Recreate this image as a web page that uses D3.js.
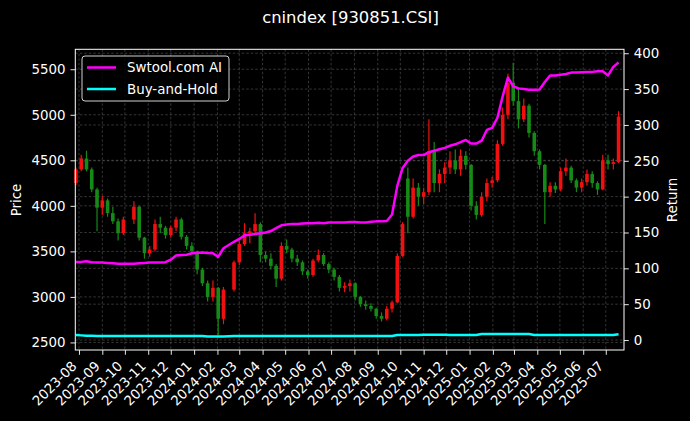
<!DOCTYPE html>
<html>
<head>
<meta charset="utf-8">
<script src="https://cdn.jsdelivr.net/npm/d3@7"></script>
<style>
html,body{margin:0;padding:0;background:#000;}
svg{display:block;}
text{font-family:"DejaVu Sans",sans-serif;fill:#fff;}
</style>
</head>
<body>
<svg id="chart" width="690" height="421"></svg>
<script>
const titleText = "cnindex [930851.CSI]";
const seriesNames = ["Swtool.com AI", "Buy-and-Hold"];
const dates = [
"2023-07-28","2023-08-04","2023-08-11","2023-08-18","2023-08-25","2023-09-01","2023-09-08","2023-09-15","2023-09-22","2023-09-29",
"2023-10-13","2023-10-20","2023-10-27","2023-11-03","2023-11-10","2023-11-17","2023-11-24","2023-12-01","2023-12-08","2023-12-15",
"2023-12-22","2023-12-29","2024-01-05","2024-01-12","2024-01-19","2024-01-26","2024-02-02","2024-02-09","2024-02-23","2024-03-01",
"2024-03-08","2024-03-15","2024-03-22","2024-03-29","2024-04-05","2024-04-12","2024-04-19","2024-04-26","2024-05-03","2024-05-10",
"2024-05-17","2024-05-24","2024-05-31","2024-06-07","2024-06-14","2024-06-21","2024-06-28","2024-07-05","2024-07-12","2024-07-19",
"2024-07-26","2024-08-02","2024-08-09","2024-08-16","2024-08-23","2024-08-30","2024-09-06","2024-09-13","2024-09-20","2024-09-27",
"2024-10-04","2024-10-11","2024-10-18","2024-10-25","2024-11-01","2024-11-08","2024-11-15","2024-11-22","2024-11-29","2024-12-06",
"2024-12-13","2024-12-20","2024-12-27","2025-01-03","2025-01-10","2025-01-17","2025-01-24","2025-01-31","2025-02-07","2025-02-14",
"2025-02-21","2025-02-28","2025-03-07","2025-03-14","2025-03-21","2025-03-28","2025-04-04","2025-04-11","2025-04-18","2025-04-25",
"2025-05-02","2025-05-09","2025-05-16","2025-05-23","2025-05-30","2025-06-06","2025-06-13","2025-06-20","2025-06-27","2025-07-04",
"2025-07-11","2025-07-18"];
const open = [
4250,4400,4520,4400,4180,3980,4060,3920,3830,3700,
3850,3990,3650,3480,3520,3800,3760,3680,3760,3850,
3660,3560,3500,3300,3150,3000,3100,2760,3080,3380,
3580,3700,3720,3800,3460,3420,3340,3200,3560,3520,
3420,3380,3280,3240,3400,3460,3360,3300,3220,3100,
3120,3150,3000,2920,2900,2870,2790,2760,2870,2940,
3450,4300,3880,4200,4100,4150,4600,4250,4350,4420,
4500,4400,4550,4450,4000,3900,4100,4250,4280,4680,
5000,5350,5150,4950,5100,4800,4600,4450,4150,4220,
4180,4380,4420,4280,4200,4260,4350,4250,4180,4500,
4460,4480];
const high = [
4420,4560,4605,4420,4200,4110,4080,3990,3860,3880,
4050,4000,3660,3560,3850,3880,3780,3780,3880,3870,
3680,3600,3510,3320,3180,3180,3110,3110,3400,3620,
3810,3760,3920,3820,3500,3480,3360,3600,3630,3540,
3460,3400,3300,3420,3520,3480,3380,3320,3240,3160,
3190,3160,3010,2960,2930,2880,2830,2900,2960,3480,
3820,4420,4300,4250,4200,4950,4700,4400,4480,4600,
4620,4620,4600,4460,4050,4150,4300,4320,4720,5080,
5450,5570,5300,5180,5120,4820,4620,4460,4260,4260,
4420,4520,4440,4300,4300,4400,4380,4270,4560,4560,
4520,5040];
const low = [
4230,4380,4380,4150,3720,3900,3880,3800,3620,3680,
3800,3620,3420,3440,3500,3700,3640,3650,3720,3630,
3520,3480,3250,3120,2950,2950,2580,2700,3060,3350,
3560,3590,3700,3380,3380,3300,3110,3180,3480,3380,
3340,3240,3200,3220,3380,3340,3260,3180,3060,3050,
3060,2960,2890,2860,2840,2760,2730,2740,2830,2930,
3440,3700,3860,4000,4020,4120,4150,4150,4250,4350,
4350,4330,4400,3950,3850,3880,4050,4200,4260,4660,
4950,5100,4850,4920,4750,4550,4400,3800,4100,4140,
4160,4330,4250,4150,4150,4220,4200,4120,4170,4400,
4400,4470];
const close = [
4400,4520,4400,4180,3980,4060,3920,3830,3700,3850,
3990,3650,3480,3520,3800,3760,3680,3760,3850,3660,
3560,3500,3300,3150,3000,3100,2760,3080,3380,3580,
3700,3720,3800,3460,3420,3340,3200,3560,3520,3420,
3380,3280,3240,3400,3460,3360,3300,3220,3100,3120,
3150,3000,2920,2900,2870,2790,2760,2870,2940,3450,
3800,3880,4200,4100,4150,4600,4250,4350,4420,4500,
4400,4550,4450,4000,3900,4100,4250,4280,4680,5000,
5350,5150,4950,5100,4800,4600,4450,4150,4220,4180,
4380,4420,4280,4200,4260,4350,4250,4180,4500,4460,
4480,4980];
const aiReturn = [
109,109,110,108.5,108,108,107.5,107,106.5,106.5,
106.5,107,107.5,108,108,108,108.5,112,118,118.5,
119,121,121.5,122,121.5,121,116,128,137,141,
146,147,148,149,150,152,156,160,161,162,
162,162.5,163,163,163.5,163,164,164,164,164,
164.5,164.5,164,164,165,165.5,165.5,166,175,215,
240,250,256,258,258,262,264,266,268,271,
273,276,279,274,274,278,293,296,310,340,
366,354,351,350,349,349,349.5,360,369,369,
370,371,373,373,373.5,374,374,375,375,369,
381,387];
const bhReturn = [
7,6.5,6,6,5.6,5.6,5.6,5.6,5.6,5.6,
5.6,5.6,5.6,5.6,5.6,5.6,5.6,5.6,5.6,5.6,
5.6,5.6,5.6,5.6,5.0,5.0,5.0,5.0,5.6,5.6,
5.6,5.6,5.6,5.6,5.6,5.6,5.6,5.6,5.6,5.6,
5.6,5.6,5.6,5.6,5.6,5.6,5.6,5.6,5.6,5.6,
5.6,5.6,5.6,5.6,5.6,5.6,5.6,5.6,5.6,6.9,
6.9,6.9,6.9,6.9,7.3,7.3,7.3,7.3,7.3,6.9,
6.9,6.9,6.9,6.9,6.9,8.3,8.3,8.3,8.3,8.3,
8.3,8.3,8.3,8.3,8.3,6.9,6.9,6.9,6.9,6.9,
6.9,6.9,6.9,6.9,6.9,6.9,6.9,6.9,6.9,6.9,
6.9,8];
const xTickLabels = ["2023-08","2023-09","2023-10","2023-11","2023-12","2024-01","2024-02","2024-03","2024-04","2024-05","2024-06","2024-07","2024-08","2024-09","2024-10","2024-11","2024-12","2025-01","2025-02","2025-03","2025-04","2025-05","2025-06","2025-07"];
const priceTicks = [2500,3000,3500,4000,4500,5000,5500];
const returnTicks = [0,50,100,150,200,250,300,350,400];

const svg = d3.select("#chart");
const L = 75.3, R = 624, T = 49.3, B = 350;
const parseDay = d3.timeParse("%Y-%m-%d");
const parseMonth = d3.timeParse("%Y-%m");
const x = d3.scaleTime().domain([new Date(2023,6,27,3), new Date(2025,6,25,5)]).range([L, R]);
const yP = d3.scaleLinear().domain([2417, 5719]).range([B, T]);
const yR = d3.scaleLinear().domain([-13.9, 405.5]).range([B, T]);

const data = dates.map((d,i)=>({date:parseDay(d), o:open[i], h:high[i], l:low[i], c:close[i], ai:aiReturn[i], bh:bhReturn[i]}));
const xTicks = xTickLabels.map(s=>parseMonth(s));

svg.append("rect").attr("width",690).attr("height",421).attr("fill","#000");

// grid
const grid = svg.append("g").attr("stroke","#6a6a6a").attr("stroke-width",0.5).attr("stroke-dasharray","2.5,2");
xTicks.forEach(t=>grid.append("line").attr("x1",x(t)).attr("x2",x(t)).attr("y1",T).attr("y2",B));
priceTicks.forEach(t=>grid.append("line").attr("x1",L).attr("x2",R).attr("y1",yP(t)).attr("y2",yP(t)));
returnTicks.forEach(t=>grid.append("line").attr("x1",L).attr("x2",R).attr("y1",yR(t)).attr("y2",yR(t)));

// candles
const cg = svg.append("g");
const bw = 3.6;
data.forEach(d=>{
  const col = d.c >= d.o ? "#f01010" : "#168a16";
  const cx = x(d.date);
  cg.append("line").attr("x1",cx).attr("x2",cx).attr("y1",yP(d.h)).attr("y2",yP(d.l)).attr("stroke",col).attr("stroke-width",1.2);
  const y1 = yP(Math.max(d.o,d.c)), y2 = yP(Math.min(d.o,d.c));
  cg.append("rect").attr("x",cx-bw/2).attr("y",y1).attr("width",bw).attr("height",Math.max(1,y2-y1)).attr("fill",col);
});

// lines
const lineAI = d3.line().x(d=>x(d.date)).y(d=>yR(d.ai));
const lineBH = d3.line().x(d=>x(d.date)).y(d=>yR(d.bh));
svg.append("path").datum(data).attr("d",lineAI).attr("fill","none").attr("stroke","#ff00ff").attr("stroke-width",2.5).attr("stroke-linejoin","round");
svg.append("path").datum(data).attr("d",lineBH).attr("fill","none").attr("stroke","#00ffff").attr("stroke-width",2.5).attr("stroke-linejoin","round");

// axes
const fs = 13.4;
const axL = svg.append("g").attr("transform",`translate(${L},0)`).call(d3.axisLeft(yP).tickValues(priceTicks).tickSize(4.8).tickPadding(5).tickFormat(d3.format("d")));
const axR = svg.append("g").attr("transform",`translate(${R},0)`).call(d3.axisRight(yR).tickValues(returnTicks).tickSize(4.8).tickPadding(5).tickFormat(d3.format("d")));
const axB = svg.append("g").attr("transform",`translate(0,${B})`).call(d3.axisBottom(x).tickValues(xTicks).tickSize(4.8).tickFormat(d3.timeFormat("%Y-%m")));
[axL,axR,axB].forEach(a=>{
  a.select(".domain").remove();
  a.selectAll(".tick line").attr("stroke","#fff").attr("stroke-width",0.9);
  a.selectAll(".tick text").attr("fill","#fff").style("font-size",fs+"px").style("font-family","DejaVu Sans");
});
axB.selectAll(".tick text").attr("text-anchor","end").attr("dy",null).attr("y",null)
  .attr("transform","translate(-2,17) rotate(-45)");

// frame
svg.append("rect").attr("x",L).attr("y",T).attr("width",R-L).attr("height",B-T).attr("fill","none").attr("stroke","#fff").attr("stroke-width",1);

// labels
svg.append("text").attr("x",350.5).attr("y",22.5).attr("text-anchor","middle").style("font-size","16.4px").text(titleText);
svg.append("text").attr("transform","translate(21,200) rotate(-90)").attr("text-anchor","middle").style("font-size",fs+"px").text("Price");
svg.append("text").attr("transform","translate(677,200) rotate(-90)").attr("text-anchor","middle").style("font-size",fs+"px").text("Return");

// legend
const lg = svg.append("g");
lg.append("rect").attr("x",82).attr("y",56).attr("width",147).attr("height",45).attr("rx",3)
  .attr("fill","#000").attr("fill-opacity",0.8).attr("stroke","#d0d0d0").attr("stroke-width",1);
const lcols = ["#ff00ff","#00ffff"];
seriesNames.forEach((n,i)=>{
  const yy = 67.5 + i*21.5;
  lg.append("line").attr("x1",87).attr("x2",116).attr("y1",yy).attr("y2",yy).attr("stroke",lcols[i]).attr("stroke-width",2.5);
  lg.append("text").attr("x",127).attr("y",yy+4.8).style("font-size",fs+"px").text(n);
});
</script>
</body>
</html>
